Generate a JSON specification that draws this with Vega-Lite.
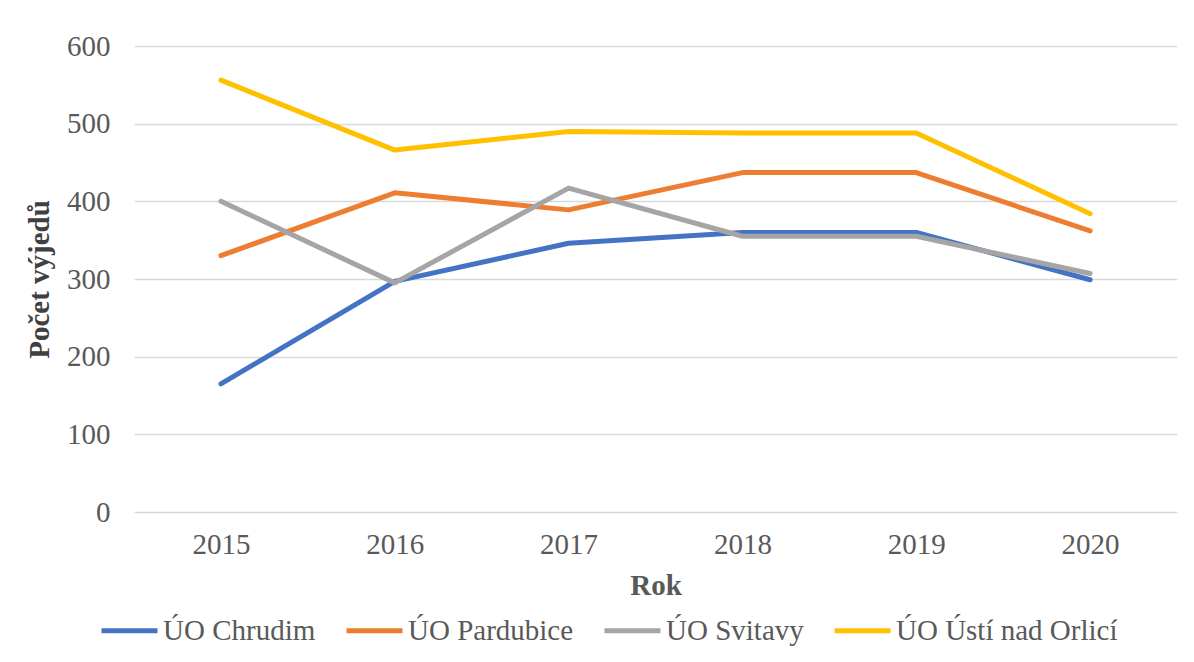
{
  "$schema": "https://vega.github.io/schema/vega-lite/v6.json",
  "autosize": "none",
  "width": 1043,
  "height": 466,
  "padding": {"left": 134, "top": 46, "right": 17, "bottom": 150},
  "background": "white",
  "config": {
    "view": {"stroke": null},
    "font": "Liberation Serif",
    "axis": {"labelFont": "Liberation Serif", "titleFont": "Liberation Serif"},
    "legend": {"labelFont": "Liberation Serif", "titleFont": "Liberation Serif"}
  },
  "data": {
    "values": [
      {"rok": "2015", "uo": "ÚO Chrudim", "pocet": 165},
      {"rok": "2016", "uo": "ÚO Chrudim", "pocet": 297},
      {"rok": "2017", "uo": "ÚO Chrudim", "pocet": 346},
      {"rok": "2018", "uo": "ÚO Chrudim", "pocet": 360},
      {"rok": "2019", "uo": "ÚO Chrudim", "pocet": 360},
      {"rok": "2020", "uo": "ÚO Chrudim", "pocet": 299},
      {"rok": "2015", "uo": "ÚO Pardubice", "pocet": 330},
      {"rok": "2016", "uo": "ÚO Pardubice", "pocet": 411},
      {"rok": "2017", "uo": "ÚO Pardubice", "pocet": 389},
      {"rok": "2018", "uo": "ÚO Pardubice", "pocet": 437},
      {"rok": "2019", "uo": "ÚO Pardubice", "pocet": 437},
      {"rok": "2020", "uo": "ÚO Pardubice", "pocet": 362},
      {"rok": "2015", "uo": "ÚO Svitavy", "pocet": 400},
      {"rok": "2016", "uo": "ÚO Svitavy", "pocet": 295},
      {"rok": "2017", "uo": "ÚO Svitavy", "pocet": 417},
      {"rok": "2018", "uo": "ÚO Svitavy", "pocet": 355},
      {"rok": "2019", "uo": "ÚO Svitavy", "pocet": 355},
      {"rok": "2020", "uo": "ÚO Svitavy", "pocet": 307},
      {"rok": "2015", "uo": "ÚO Ústí nad Orlicí", "pocet": 556},
      {"rok": "2016", "uo": "ÚO Ústí nad Orlicí", "pocet": 466},
      {"rok": "2017", "uo": "ÚO Ústí nad Orlicí", "pocet": 490},
      {"rok": "2018", "uo": "ÚO Ústí nad Orlicí", "pocet": 488},
      {"rok": "2019", "uo": "ÚO Ústí nad Orlicí", "pocet": 488},
      {"rok": "2020", "uo": "ÚO Ústí nad Orlicí", "pocet": 384}
    ]
  },
  "mark": {"type": "line", "strokeWidth": 5, "strokeCap": "round", "strokeJoin": "round"},
  "encoding": {
    "x": {
      "field": "rok",
      "type": "ordinal",
      "scale": {"type": "point", "padding": 0.5},
      "axis": {
        "title": "Rok",
        "labelAngle": 0,
        "labelFontSize": 29,
        "labelFont": "Liberation Serif",
        "labelColor": "#595959",
        "labelPadding": 18,
        "ticks": false,
        "domain": false,
        "grid": false,
        "titleFont": "Liberation Serif",
        "titleFontSize": 29,
        "titleFontWeight": "bold",
        "titleColor": "#595959",
        "titlePadding": 12
      }
    },
    "y": {
      "field": "pocet",
      "type": "quantitative",
      "scale": {"domain": [0, 600], "nice": false},
      "axis": {
        "title": "Počet výjedů",
        "values": [0, 100, 200, 300, 400, 500, 600],
        "labelFontSize": 29,
        "labelFont": "Liberation Serif",
        "labelColor": "#595959",
        "labelPadding": 24,
        "ticks": false,
        "domain": false,
        "grid": true,
        "gridColor": "#d9d9d9",
        "gridWidth": 1.5,
        "titleFont": "Liberation Serif",
        "titleFontSize": 29,
        "titleFontWeight": "bold",
        "titleColor": "#404040",
        "titlePadding": 12
      }
    },
    "color": {
      "field": "uo",
      "type": "nominal",
      "scale": {
        "domain": ["ÚO Chrudim", "ÚO Pardubice", "ÚO Svitavy", "ÚO Ústí nad Orlicí"],
        "range": ["#4472C4", "#ED7D31", "#A5A5A5", "#FFC000"]
      },
      "legend": {
        "title": null,
        "orient": "none",
        "legendX": -35,
        "legendY": 554,
        "direction": "horizontal",
        "symbolType": "stroke",
        "symbolSize": 3136,
        "symbolStrokeWidth": 5,
        "labelFont": "Liberation Serif",
        "labelFontSize": 29,
        "labelColor": "#595959",
        "labelOffset": 3,
        "columnPadding": 20,
        "labelLimit": 400
      }
    }
  }
}
